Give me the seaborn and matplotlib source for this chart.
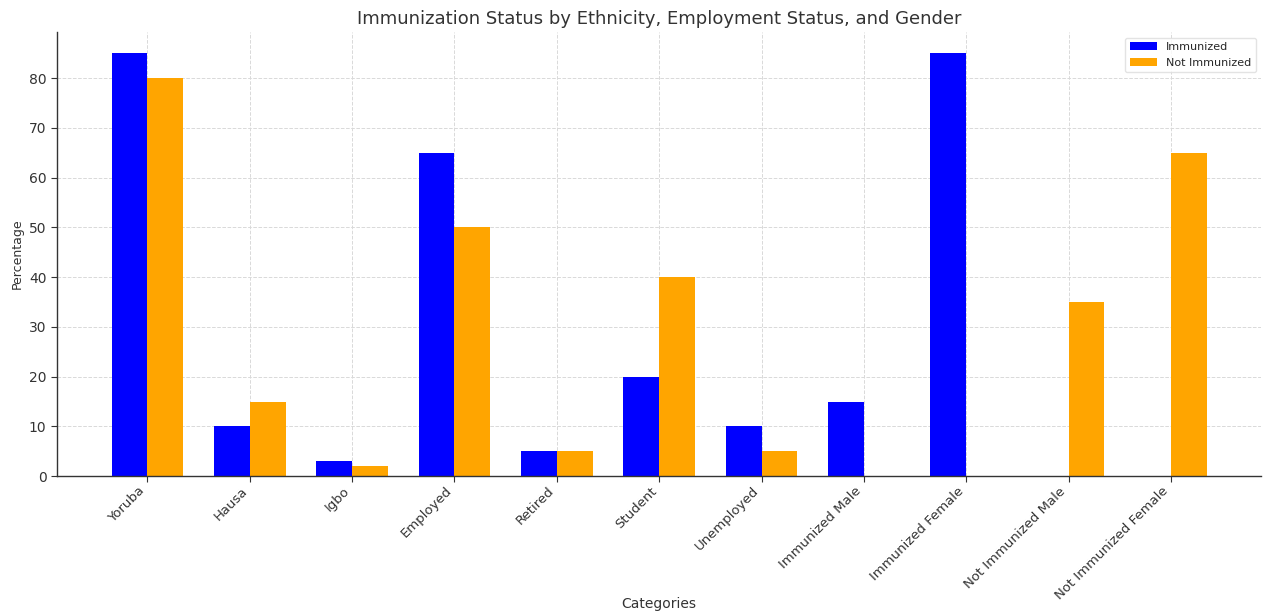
import matplotlib
matplotlib.use("Agg")
import matplotlib.pyplot as plt
import seaborn as sns
import pandas as pd

categories = ["Yoruba", "Hausa", "Igbo", "Employed", "Retired", "Student", "Unemployed",
              "Immunized Male", "Immunized Female", "Not Immunized Male", "Not Immunized Female"]
immunized = [85, 10, 3, 65, 5, 20, 10, 15, 85, 0, 0]
not_immunized = [80, 15, 2, 50, 5, 40, 5, 0, 0, 35, 65]
series_names = ["Immunized", "Not Immunized"]
colors = ["#0000ff", "#ffa500"]

df = pd.DataFrame({
    "Categories": categories * 2,
    "Percentage": immunized + not_immunized,
    "Status": [series_names[0]] * len(categories) + [series_names[1]] * len(categories),
})

sns.set_style("white")
plt.rcParams['font.family'] = ['DejaVu Sans']

fig = plt.figure(figsize=(12.64, 6.16), dpi=100)
ax = fig.add_axes([0.045, 0.227, 0.953, 0.721])

sns.barplot(data=df, x="Categories", y="Percentage", hue="Status",
            palette=colors, saturation=1, width=0.7, gap=0, linewidth=0, ax=ax, zorder=2)

ax.set_xlim(-0.885, len(categories) - 1 + 0.885)
ax.set_ylim(0, 89.25)
ax.grid(True, linestyle="--", color="#d9d9d9", linewidth=0.7, zorder=0)
ax.set_axisbelow(True)
for s in ["top", "right"]:
    ax.spines[s].set_visible(False)
for s in ["left", "bottom"]:
    ax.spines[s].set_color("#333333")
    ax.spines[s].set_linewidth(1.0)
ax.tick_params(axis="both", which="both", length=4, color="#333333", labelsize=10,
               labelcolor="#333333", direction="out", left=True, bottom=True)
ax.tick_params(axis="x", labelsize=9.5, pad=2)
plt.setp(ax.get_xticklabels(), rotation=45, ha="right")

ax.set_title("Immunization Status by Ethnicity, Employment Status, and Gender",
             fontsize=13, color="#333333")
ax.set_xlabel("Categories", fontsize=10, color="#333333")
ax.xaxis.set_label_coords(0.5, -0.272)
ax.set_ylabel("Percentage", fontsize=9, color="#333333")
ax.legend(title=None, loc="upper right", fontsize=8, frameon=True,
          edgecolor="#dddddd", handlelength=2.5)

fig.savefig("out.png", dpi=100)
